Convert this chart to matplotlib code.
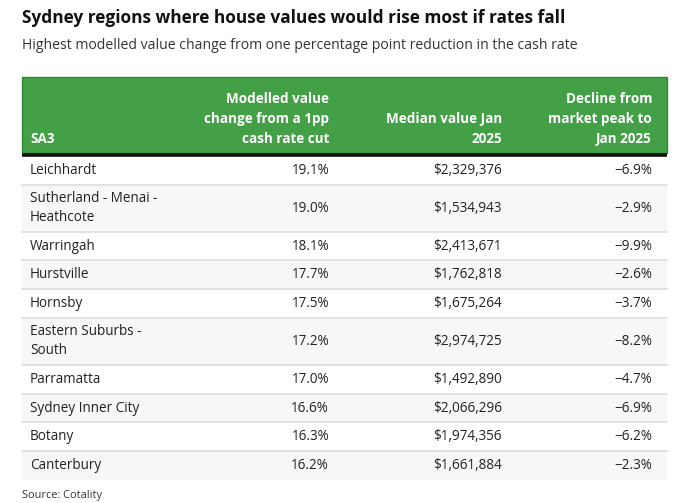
import textwrap
import matplotlib
matplotlib.use("Agg")
import matplotlib.pyplot as plt
from matplotlib.patches import Rectangle
from matplotlib import font_manager

plt.rcParams['font.family'] = ['Open Sans', 'DejaVu Sans']

title = "Sydney regions where house values would rise most if rates fall"
subtitle = "Highest modelled value change from one percentage point reduction in the cash rate"
headers = ["SA3", "Modelled value\nchange from a 1pp\ncash rate cut", "Median value Jan\n2025", "Decline from\nmarket peak to\nJan 2025"]
regions = ["Leichhardt", "Sutherland - Menai - Heathcote", "Warringah", "Hurstville", "Hornsby",
           "Eastern Suburbs - South", "Parramatta", "Sydney Inner City", "Botany", "Canterbury"]
value_change = [19.1, 19.0, 18.1, 17.7, 17.5, 17.2, 17.0, 16.6, 16.3, 16.2]
median_value = [2329376, 1534943, 2413671, 1762818, 1675264, 2974725, 1492890, 2066296, 1974356, 1661884]
decline = [-6.9, -2.9, -9.9, -2.6, -3.7, -8.2, -4.7, -6.9, -6.2, -2.3]
source = "Source: Cotality"

W, H = 687, 503
fig = plt.figure(figsize=(W / 100, H / 100), dpi=100)
ax = fig.add_axes([0, 0, 1, 1])
ax.set_xlim(0, W)
ax.set_ylim(H, 0)
ax.axis('off')

PX = 72 / 100  # points per pixel

names = {f.name for f in font_manager.fontManager.ttflist}
if 'Liberation Sans Narrow' in names:
    title_family, title_px = ['Liberation Sans Narrow', 'DejaVu Sans'], 21
else:
    title_family, title_px = ['Open Sans', 'DejaVu Sans'], 17.3

ax.text(22, 18, title, fontsize=title_px * PX, fontweight='bold', color='#111111', va='center', ha='left',
        family=title_family)
ax.text(22, 45, subtitle, fontsize=14 * PX, color='#333333', va='center', ha='left')

left, right = 22, 667
hdr_top, hdr_bot = 77, 153
ax.add_patch(Rectangle((left, hdr_top), right - left, hdr_bot - hdr_top, facecolor='#43a047',
                       edgecolor='#2e8b32', linewidth=1))
ax.plot([left, right], [154.5, 154.5], color='#111111', linewidth=2.6, solid_capstyle='butt')

col_x = [30, 329, 502, 652]
col_ha = ['left', 'right', 'right', 'right']
for i, h in enumerate(headers):
    ax.text(col_x[i], 143, h, fontsize=13.5 * PX, fontweight='bold', color='white',
            ha=col_ha[i], va='baseline', linespacing=1.55, multialignment=col_ha[i])

y = 156
body_fs = 13.5 * PX
for i, name in enumerate(regions):
    lines = textwrap.wrap(name, 20)
    h = 28.8 if len(lines) == 1 else 46.8
    bg = '#ffffff' if i % 2 == 0 else '#f7f7f7'
    ax.add_patch(Rectangle((left, y), right - left, h, facecolor=bg, edgecolor='none'))
    if i < len(regions) - 1:
        ax.plot([left, right], [y + h, y + h], color='#dddddd', linewidth=1.2)
    cy = y + h / 2
    ax.text(col_x[0], cy, "\n".join(lines), fontsize=body_fs, color='#222222', ha='left',
            va='center', linespacing=1.35)
    ax.text(col_x[1], cy, f"{value_change[i]:.1f}%", fontsize=body_fs, color='#222222', ha='right', va='center')
    ax.text(col_x[2], cy, f"${median_value[i]:,}", fontsize=body_fs, color='#222222', ha='right', va='center')
    ax.text(col_x[3], cy, f"\u2212{abs(decline[i]):.1f}%", fontsize=body_fs, color='#222222', ha='right', va='center')
    y += h

ax.text(22, 501, source, fontsize=11 * PX, color='#333333', ha='left', va='bottom')

fig.savefig("out.png", dpi=100)
